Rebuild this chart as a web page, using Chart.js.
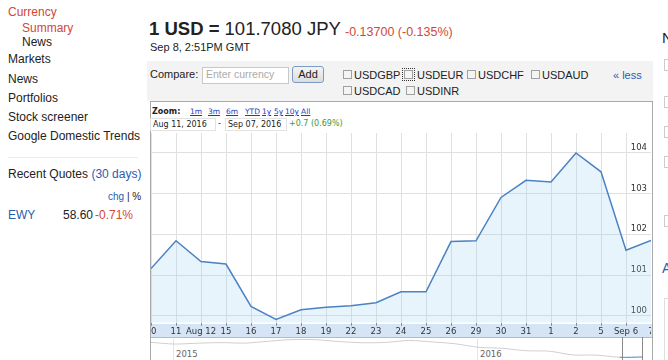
<!DOCTYPE html>
<html>
<head>
<meta charset="utf-8">
<script src="https://cdn.jsdelivr.net/npm/chart.js@4.4.0/dist/chart.umd.min.js"></script>
<style>
  body { margin: 0; width: 668px; height: 360px; overflow: hidden; background: #fff;
         font-family: "Liberation Sans", Arial, sans-serif; color: #222; position: relative; }
  .a { position: absolute; white-space: nowrap; }
  .nav { font-size: 12px; line-height: 16px; }
  .red { color: #d14836; }
  .blue { color: #2a5db0; }
  .v { font-family: "DejaVu Sans", Verdana, sans-serif; }
  .zl { position: absolute; top: 106px; font-size: 7.5px; line-height: 11px; color: #1a3dc1; text-decoration: underline; }
  .cb { position: absolute; width: 7px; height: 7px; border: 1px solid #a0a0a0; background: #f4f4f4; }
  .cbl { position: absolute; font-size: 11px; line-height: 12px; color: #222; }
  .rbox { position: absolute; left: 664px; width: 12px; height: 10px; border: 1px solid #ccc; background: #fff; }
</style>
</head>
<body>
<!-- left column -->
<div class="a nav red" style="left:8px;top:4px">Currency</div>
<div class="a nav red" style="left:22px;top:20px">Summary</div>
<div class="a nav" style="left:22px;top:34px">News</div>
<div class="a nav" style="left:8px;top:51px">Markets</div>
<div class="a nav" style="left:8px;top:71px">News</div>
<div class="a nav" style="left:8px;top:90px">Portfolios</div>
<div class="a nav" style="left:8px;top:109px">Stock screener</div>
<div class="a nav" style="left:8px;top:128px">Google Domestic Trends</div>
<div class="a" style="left:8px;top:157px;width:130px;height:1px;background:#ebebeb"></div>
<div class="a nav" style="left:8px;top:166px">Recent Quotes <span class="blue">(30 days)</span></div>
<div class="a" style="left:108px;top:191px;font-size:10px;line-height:12px"><span class="blue">chg</span> | %</div>
<div class="a blue" style="left:8px;top:208px;font-size:12px;line-height:14px">EWY</div>
<div class="a" style="left:63px;top:208px;font-size:12px;line-height:14px">58.60</div>
<div class="a red" style="left:95px;top:208px;font-size:12px;line-height:14px">-0.71%</div>

<!-- heading -->
<div class="a" style="left:149px;top:17px;font-size:18.5px;line-height:24px"><b>1 USD =</b> 101.7080 JPY</div>
<div class="a red" style="left:345px;top:24px;font-size:12.5px;line-height:16px">-0.13700 (-0.135%)</div>
<div class="a" style="left:150px;top:40px;font-size:11px;line-height:14px">Sep 8, 2:51PM GMT</div>

<!-- compare bar -->
<div class="a" style="left:147px;top:61px;width:506px;height:40px;background:#f3f3f3"></div>
<div class="a" style="left:150px;top:68px;font-size:11px;line-height:13px">Compare:</div>
<div class="a" style="left:202px;top:67px;width:85px;height:15px;border:1px solid #c8c8c8;background:#fff"></div>
<div class="a" style="left:206px;top:68px;font-size:10.5px;line-height:13px;color:#aaa">Enter currency</div>
<div class="a" style="left:292px;top:66px;width:30px;height:15px;border:1px solid #7a9cc4;border-radius:3px;background:linear-gradient(#f4f4f4,#dcdcdc);font-size:11px;line-height:15px;text-align:center">Add</div>
<div class="cb" style="left:343px;top:70px"></div><div class="cbl" style="left:354px;top:69px">USDGBP</div>
<div class="a" style="left:402px;top:68px;width:11px;height:11px;border:1px dotted #333"></div>
<div class="cb" style="left:404px;top:70px"></div><div class="cbl" style="left:417px;top:69px">USDEUR</div>
<div class="cb" style="left:467px;top:70px"></div><div class="cbl" style="left:478px;top:69px">USDCHF</div>
<div class="cb" style="left:531px;top:70px"></div><div class="cbl" style="left:542px;top:69px">USDAUD</div>
<div class="a blue" style="left:613px;top:69px;font-size:11px;line-height:12px">&laquo; less</div>
<div class="cb" style="left:343px;top:86px"></div><div class="cbl" style="left:354px;top:85px">USDCAD</div>
<div class="cb" style="left:406px;top:86px"></div><div class="cbl" style="left:417px;top:85px">USDINR</div>

<!-- chart panel -->
<div class="a" style="left:150px;top:101px;width:501px;height:270px;border:1px solid #a9a9a9;background:#fff"></div>
<div class="a v" style="left:152px;top:106px;font-size:8px;line-height:11px;font-weight:bold">Zoom:</div>
<div class="zl v" style="left:190px">1m</div>
<div class="zl v" style="left:208px">3m</div>
<div class="zl v" style="left:226px">6m</div>
<div class="zl v" style="left:245px">YTD</div>
<div class="zl v" style="left:262px">1y</div>
<div class="zl v" style="left:274px">5y</div>
<div class="zl v" style="left:285px">10y</div>
<div class="zl v" style="left:301px">All</div>
<div class="a v" style="left:150px;top:118px;width:62px;height:11px;border:1px solid #e2e2e2;font-size:8px;line-height:11px;padding-left:2px">Aug 11, 2016</div>
<div class="a v" style="left:218px;top:118px;font-size:8px;line-height:11px">-</div>
<div class="a v" style="left:225px;top:118px;width:58px;height:11px;border:1px solid #e2e2e2;font-size:8px;line-height:11px;padding-left:2px">Sep 07, 2016</div>
<div class="a v" style="left:289px;top:118px;font-size:8px;line-height:11px;color:#3a9a3a">+0.7 (0.69%)</div>

<!-- x-axis band -->
<div class="a" style="left:151px;top:324px;width:501px;height:13px;background:#d6e5f6;border-bottom:1px solid #a9bdd4"></div>
<div class="a" style="left:151px;top:133px;width:501px;height:205px;overflow:hidden">
  <canvas id="fxChart" width="500" height="205"></canvas>
</div>

<!-- navigator -->
<div class="a" style="left:173px;top:339px;width:1px;height:21px;background:#e4e4e4"></div>
<div class="a" style="left:477px;top:339px;width:1px;height:21px;background:#e4e4e4"></div>
<div class="a v" style="left:176px;top:349px;font-size:8.5px;line-height:11px;color:#666">2015</div>
<div class="a v" style="left:480px;top:349px;font-size:8.5px;line-height:11px;color:#666">2016</div>
<div class="a" style="left:151px;top:338px;width:501px;height:22px;overflow:hidden">
  <canvas id="navChart" width="492" height="22"></canvas>
</div>
<div class="a" style="left:622px;top:337px;width:19px;height:30px;border-left:1px solid #8a8a8a;border-right:1px solid #8a8a8a"></div>

<!-- right column (cut off) -->
<div class="a" style="left:662px;top:29px;font-size:15px;line-height:18px">N</div>
<div class="rbox" style="top:59px"></div>
<div class="rbox" style="top:96px"></div>
<div class="rbox" style="top:126px"></div>
<div class="rbox" style="top:156px"></div>
<div class="rbox" style="top:215px"></div>
<div class="a blue" style="left:662px;top:260px;font-size:14px;line-height:16px">A</div>
<div class="a" style="left:664px;top:298px;width:20px;height:80px;border:1px solid #ddd"></div>

<script>
const dayLabels = ['10', '11', 'Aug 12', '15', '16', '17', '18', '19', '22', '23', '24',
  '25', '26', '29', '30', '31', '1', '2', '5', 'Sep 6', '7'];
const usdJpy = [101.16, 101.84, 101.33, 101.27, 100.23, 99.91, 100.15, 100.21, 100.25, 100.32, 100.59,
  100.59, 101.82, 101.84, 102.90, 103.32, 103.28, 103.99, 103.53, 101.61, 101.85];
const yTicks = [100, 101, 102, 103, 104];

// navigator: rough monthly history, Dec 2014 .. Sep 2016
const navLabels = ['Dec', 'Jan', 'Feb', 'Mar', 'Apr', 'May', 'Jun', 'Jul', 'Aug', 'Sep', 'Oct', 'Nov',
  'Dec', 'Jan', 'Feb', 'Mar', 'Apr', 'May', 'Jun', 'Jul', 'Aug', 'Sep'];
const navValues = [120.5, 118.3, 119.4, 120.1, 119.5, 121.8, 124.0, 123.9, 121.5, 120.0, 120.4, 122.8,
  121.0, 118.6, 114.2, 112.9, 109.8, 109.2, 104.5, 104.2, 101.5, 101.8];

const tickFont = { family: 'DejaVu Sans', size: 8.5 };

new Chart(document.getElementById('fxChart'), {
  type: 'line',
  data: {
    labels: dayLabels,
    datasets: [{
      data: usdJpy,
      borderColor: '#4a82c4',
      backgroundColor: 'rgba(150,205,240,0.22)',
      borderWidth: 1.5,
      pointRadius: 0,
      tension: 0,
      fill: 'start'
    }]
  },
  options: {
    responsive: false,
    animation: false,
    layout: { padding: 0 },
    plugins: { legend: { display: false }, tooltip: { enabled: false } },
    scales: {
      x: {
        offset: false,
        grid: { color: '#e0e0e0', tickLength: 3, tickColor: '#7d8ea6' },
        border: { display: false },
        ticks: { autoSkip: false, maxRotation: 0, padding: 1, color: '#333', font: tickFont },
        afterFit: function (s) { s.paddingLeft = 0; s.paddingRight = 0; }
      },
      y: {
        position: 'right',
        min: 99.83,
        max: 104.48,
        grid: { color: '#e0e0e0', drawTicks: false },
        border: { display: false },
        afterBuildTicks: function (s) { s.ticks = yTicks.map(v => ({ value: v })); },
        ticks: { mirror: true, crossAlign: 'far', padding: -4, labelOffset: -5, color: '#333', font: tickFont },
        afterFit: function (s) { s.width = 0; s.paddingTop = 0; s.paddingBottom = 0; }
      }
    }
  }
});

new Chart(document.getElementById('navChart'), {
  type: 'line',
  data: {
    labels: navLabels,
    datasets: [{
      data: navValues,
      borderColor: '#cfcfcf',
      borderWidth: 1,
      pointRadius: 0,
      tension: 0.3,
      segment: {
        borderColor: ctx => ctx.p0DataIndex >= navValues.length - 2 ? '#4a82c4' : undefined
      }
    }]
  },
  options: {
    responsive: false,
    animation: false,
    layout: { padding: 0 },
    plugins: { legend: { display: false }, tooltip: { enabled: false } },
    scales: {
      x: { display: false, offset: false },
      y: { display: false, min: 98, max: 126 }
    }
  }
});
</script>
</body>
</html>
